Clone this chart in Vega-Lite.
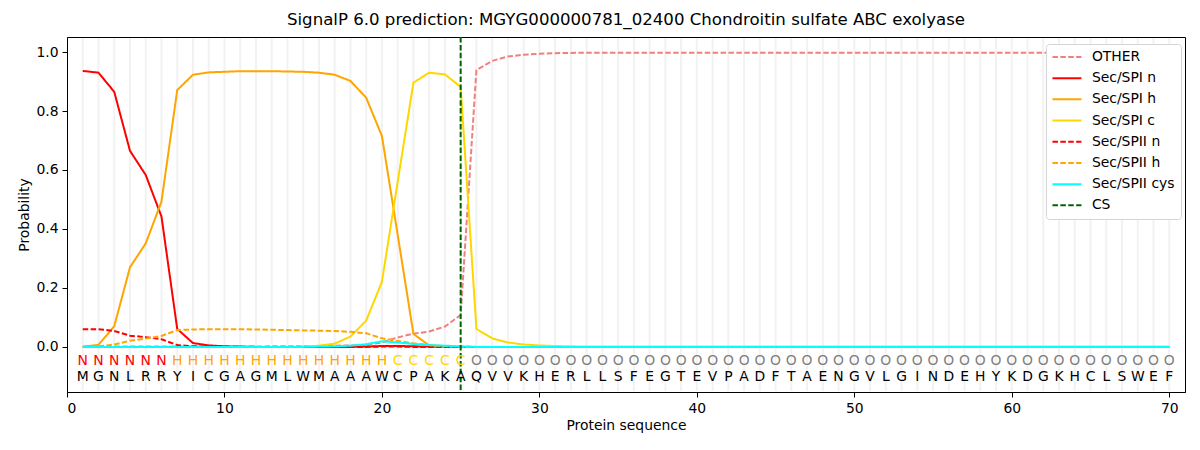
{
  "$schema": "https://vega.github.io/schema/vega-lite/v6.json",
  "width": 1118,
  "height": 355,
  "autosize": {"type": "none"},
  "padding": {"left": 67, "top": 37, "right": 15, "bottom": 58},
  "background": "white",
  "title": {
    "text": "SignalP 6.0 prediction: MGYG000000781_02400 Chondroitin sulfate ABC exolyase",
    "fontSize": 16.6,
    "fontWeight": "normal",
    "color": "black",
    "offset": 7
  },
  "config": {
    "font": "DejaVu Sans",
    "view": {"stroke": "black", "strokeWidth": 1},
    "axis": {
      "grid": false,
      "domainColor": "black",
      "tickColor": "black",
      "tickSize": 5,
      "labelColor": "black",
      "titleColor": "black",
      "labelFontSize": 13.9,
      "titleFontSize": 13.9,
      "titleFontWeight": "normal",
      "labelPadding": 4
    }
  },
  "data": {
    "values": [
      {"pos": 1, "aa": "M", "lab": "N", "OTHER": 0.001, "Sec/SPI n": 0.936, "Sec/SPI h": 0.0, "Sec/SPI c": 0.0, "Sec/SPII n": 0.06, "Sec/SPII h": 0.0, "Sec/SPII cys": 0.0},
      {"pos": 2, "aa": "G", "lab": "N", "OTHER": 0.001, "Sec/SPI n": 0.93, "Sec/SPI h": 0.007, "Sec/SPI c": 0.0, "Sec/SPII n": 0.06, "Sec/SPII h": 0.002, "Sec/SPII cys": 0.0},
      {"pos": 3, "aa": "N", "lab": "N", "OTHER": 0.001, "Sec/SPI n": 0.865, "Sec/SPI h": 0.07, "Sec/SPI c": 0.0, "Sec/SPII n": 0.054, "Sec/SPII h": 0.008, "Sec/SPII cys": 0.0},
      {"pos": 4, "aa": "L", "lab": "N", "OTHER": 0.001, "Sec/SPI n": 0.665, "Sec/SPI h": 0.27, "Sec/SPI c": 0.0, "Sec/SPII n": 0.038, "Sec/SPII h": 0.021, "Sec/SPII cys": 0.0},
      {"pos": 5, "aa": "R", "lab": "N", "OTHER": 0.001, "Sec/SPI n": 0.583, "Sec/SPI h": 0.351, "Sec/SPI c": 0.0, "Sec/SPII n": 0.033, "Sec/SPII h": 0.028, "Sec/SPII cys": 0.0},
      {"pos": 6, "aa": "R", "lab": "N", "OTHER": 0.001, "Sec/SPI n": 0.442, "Sec/SPI h": 0.493, "Sec/SPI c": 0.0, "Sec/SPII n": 0.026, "Sec/SPII h": 0.037, "Sec/SPII cys": 0.0},
      {"pos": 7, "aa": "Y", "lab": "H", "OTHER": 0.001, "Sec/SPI n": 0.061, "Sec/SPI h": 0.871, "Sec/SPI c": 0.0, "Sec/SPII n": 0.006, "Sec/SPII h": 0.057, "Sec/SPII cys": 0.0},
      {"pos": 8, "aa": "I", "lab": "H", "OTHER": 0.001, "Sec/SPI n": 0.013, "Sec/SPI h": 0.923, "Sec/SPI c": 0.0, "Sec/SPII n": 0.002, "Sec/SPII h": 0.059, "Sec/SPII cys": 0.0},
      {"pos": 9, "aa": "C", "lab": "H", "OTHER": 0.001, "Sec/SPI n": 0.005, "Sec/SPI h": 0.931, "Sec/SPI c": 0.0, "Sec/SPII n": 0.001, "Sec/SPII h": 0.06, "Sec/SPII cys": 0.0},
      {"pos": 10, "aa": "G", "lab": "H", "OTHER": 0.001, "Sec/SPI n": 0.002, "Sec/SPI h": 0.933, "Sec/SPI c": 0.0, "Sec/SPII n": 0.0, "Sec/SPII h": 0.06, "Sec/SPII cys": 0.0},
      {"pos": 11, "aa": "A", "lab": "H", "OTHER": 0.001, "Sec/SPI n": 0.001, "Sec/SPI h": 0.935, "Sec/SPI c": 0.0, "Sec/SPII n": 0.0, "Sec/SPII h": 0.06, "Sec/SPII cys": 0.0},
      {"pos": 12, "aa": "G", "lab": "H", "OTHER": 0.001, "Sec/SPI n": 0.0, "Sec/SPI h": 0.935, "Sec/SPI c": 0.0, "Sec/SPII n": 0.0, "Sec/SPII h": 0.059, "Sec/SPII cys": 0.0},
      {"pos": 13, "aa": "M", "lab": "H", "OTHER": 0.002, "Sec/SPI n": 0.0, "Sec/SPI h": 0.935, "Sec/SPI c": 0.0, "Sec/SPII n": 0.0, "Sec/SPII h": 0.058, "Sec/SPII cys": 0.0},
      {"pos": 14, "aa": "L", "lab": "H", "OTHER": 0.002, "Sec/SPI n": 0.0, "Sec/SPI h": 0.934, "Sec/SPI c": 0.0, "Sec/SPII n": 0.0, "Sec/SPII h": 0.057, "Sec/SPII cys": 0.0},
      {"pos": 15, "aa": "W", "lab": "H", "OTHER": 0.002, "Sec/SPI n": 0.0, "Sec/SPI h": 0.933, "Sec/SPI c": 0.001, "Sec/SPII n": 0.0, "Sec/SPII h": 0.056, "Sec/SPII cys": 0.0},
      {"pos": 16, "aa": "M", "lab": "H", "OTHER": 0.003, "Sec/SPI n": 0.0, "Sec/SPI h": 0.93, "Sec/SPI c": 0.004, "Sec/SPII n": 0.0, "Sec/SPII h": 0.055, "Sec/SPII cys": 0.001},
      {"pos": 17, "aa": "A", "lab": "H", "OTHER": 0.004, "Sec/SPI n": 0.0, "Sec/SPI h": 0.923, "Sec/SPI c": 0.011, "Sec/SPII n": 0.0, "Sec/SPII h": 0.054, "Sec/SPII cys": 0.002},
      {"pos": 18, "aa": "A", "lab": "H", "OTHER": 0.005, "Sec/SPI n": 0.0, "Sec/SPI h": 0.902, "Sec/SPI c": 0.035, "Sec/SPII n": 0.0, "Sec/SPII h": 0.051, "Sec/SPII cys": 0.004},
      {"pos": 19, "aa": "A", "lab": "H", "OTHER": 0.007, "Sec/SPI n": 0.001, "Sec/SPI h": 0.845, "Sec/SPI c": 0.089, "Sec/SPII n": 0.0, "Sec/SPII h": 0.046, "Sec/SPII cys": 0.009},
      {"pos": 20, "aa": "W", "lab": "H", "OTHER": 0.015, "Sec/SPI n": 0.003, "Sec/SPI h": 0.715, "Sec/SPI c": 0.221, "Sec/SPII n": 0.001, "Sec/SPII h": 0.029, "Sec/SPII cys": 0.019},
      {"pos": 21, "aa": "C", "lab": "C", "OTHER": 0.032, "Sec/SPI n": 0.003, "Sec/SPI h": 0.38, "Sec/SPI c": 0.56, "Sec/SPII n": 0.001, "Sec/SPII h": 0.02, "Sec/SPII cys": 0.015},
      {"pos": 22, "aa": "P", "lab": "C", "OTHER": 0.045, "Sec/SPI n": 0.002, "Sec/SPI h": 0.044, "Sec/SPI c": 0.896, "Sec/SPII n": 0.0, "Sec/SPII h": 0.012, "Sec/SPII cys": 0.01},
      {"pos": 23, "aa": "A", "lab": "C", "OTHER": 0.052, "Sec/SPI n": 0.001, "Sec/SPI h": 0.005, "Sec/SPI c": 0.93, "Sec/SPII n": 0.0, "Sec/SPII h": 0.006, "Sec/SPII cys": 0.006},
      {"pos": 24, "aa": "K", "lab": "C", "OTHER": 0.069, "Sec/SPI n": 0.0, "Sec/SPI h": 0.001, "Sec/SPI c": 0.924, "Sec/SPII n": 0.0, "Sec/SPII h": 0.003, "Sec/SPII cys": 0.004},
      {"pos": 25, "aa": "A", "lab": "C", "OTHER": 0.108, "Sec/SPI n": 0.0, "Sec/SPI h": 0.0, "Sec/SPI c": 0.882, "Sec/SPII n": 0.0, "Sec/SPII h": 0.001, "Sec/SPII cys": 0.002},
      {"pos": 26, "aa": "Q", "lab": "O", "OTHER": 0.939, "Sec/SPI n": 0.0, "Sec/SPI h": 0.0, "Sec/SPI c": 0.061, "Sec/SPII n": 0.0, "Sec/SPII h": 0.0, "Sec/SPII cys": 0.0},
      {"pos": 27, "aa": "V", "lab": "O", "OTHER": 0.97, "Sec/SPI n": 0.0, "Sec/SPI h": 0.0, "Sec/SPI c": 0.029, "Sec/SPII n": 0.0, "Sec/SPII h": 0.0, "Sec/SPII cys": 0.0},
      {"pos": 28, "aa": "V", "lab": "O", "OTHER": 0.985, "Sec/SPI n": 0.0, "Sec/SPI h": 0.0, "Sec/SPI c": 0.015, "Sec/SPII n": 0.0, "Sec/SPII h": 0.0, "Sec/SPII cys": 0.0},
      {"pos": 29, "aa": "K", "lab": "O", "OTHER": 0.991, "Sec/SPI n": 0.0, "Sec/SPI h": 0.0, "Sec/SPI c": 0.008, "Sec/SPII n": 0.0, "Sec/SPII h": 0.0, "Sec/SPII cys": 0.0},
      {"pos": 30, "aa": "H", "lab": "O", "OTHER": 0.994, "Sec/SPI n": 0.0, "Sec/SPI h": 0.0, "Sec/SPI c": 0.005, "Sec/SPII n": 0.0, "Sec/SPII h": 0.0, "Sec/SPII cys": 0.0},
      {"pos": 31, "aa": "E", "lab": "O", "OTHER": 0.996, "Sec/SPI n": 0.0, "Sec/SPI h": 0.0, "Sec/SPI c": 0.003, "Sec/SPII n": 0.0, "Sec/SPII h": 0.0, "Sec/SPII cys": 0.0},
      {"pos": 32, "aa": "R", "lab": "O", "OTHER": 0.997, "Sec/SPI n": 0.0, "Sec/SPI h": 0.0, "Sec/SPI c": 0.002, "Sec/SPII n": 0.0, "Sec/SPII h": 0.0, "Sec/SPII cys": 0.0},
      {"pos": 33, "aa": "L", "lab": "O", "OTHER": 0.998, "Sec/SPI n": 0.0, "Sec/SPI h": 0.0, "Sec/SPI c": 0.001, "Sec/SPII n": 0.0, "Sec/SPII h": 0.0, "Sec/SPII cys": 0.0},
      {"pos": 34, "aa": "L", "lab": "O", "OTHER": 0.998, "Sec/SPI n": 0.0, "Sec/SPI h": 0.0, "Sec/SPI c": 0.001, "Sec/SPII n": 0.0, "Sec/SPII h": 0.0, "Sec/SPII cys": 0.0},
      {"pos": 35, "aa": "S", "lab": "O", "OTHER": 0.998, "Sec/SPI n": 0.0, "Sec/SPI h": 0.0, "Sec/SPI c": 0.001, "Sec/SPII n": 0.0, "Sec/SPII h": 0.0, "Sec/SPII cys": 0.0},
      {"pos": 36, "aa": "F", "lab": "O", "OTHER": 0.998, "Sec/SPI n": 0.0, "Sec/SPI h": 0.0, "Sec/SPI c": 0.001, "Sec/SPII n": 0.0, "Sec/SPII h": 0.0, "Sec/SPII cys": 0.0},
      {"pos": 37, "aa": "E", "lab": "O", "OTHER": 0.998, "Sec/SPI n": 0.0, "Sec/SPI h": 0.0, "Sec/SPI c": 0.001, "Sec/SPII n": 0.0, "Sec/SPII h": 0.0, "Sec/SPII cys": 0.0},
      {"pos": 38, "aa": "G", "lab": "O", "OTHER": 0.998, "Sec/SPI n": 0.0, "Sec/SPI h": 0.0, "Sec/SPI c": 0.001, "Sec/SPII n": 0.0, "Sec/SPII h": 0.0, "Sec/SPII cys": 0.0},
      {"pos": 39, "aa": "T", "lab": "O", "OTHER": 0.998, "Sec/SPI n": 0.0, "Sec/SPI h": 0.0, "Sec/SPI c": 0.001, "Sec/SPII n": 0.0, "Sec/SPII h": 0.0, "Sec/SPII cys": 0.0},
      {"pos": 40, "aa": "E", "lab": "O", "OTHER": 0.998, "Sec/SPI n": 0.0, "Sec/SPI h": 0.0, "Sec/SPI c": 0.001, "Sec/SPII n": 0.0, "Sec/SPII h": 0.0, "Sec/SPII cys": 0.0},
      {"pos": 41, "aa": "V", "lab": "O", "OTHER": 0.998, "Sec/SPI n": 0.0, "Sec/SPI h": 0.0, "Sec/SPI c": 0.001, "Sec/SPII n": 0.0, "Sec/SPII h": 0.0, "Sec/SPII cys": 0.0},
      {"pos": 42, "aa": "P", "lab": "O", "OTHER": 0.998, "Sec/SPI n": 0.0, "Sec/SPI h": 0.0, "Sec/SPI c": 0.001, "Sec/SPII n": 0.0, "Sec/SPII h": 0.0, "Sec/SPII cys": 0.0},
      {"pos": 43, "aa": "A", "lab": "O", "OTHER": 0.998, "Sec/SPI n": 0.0, "Sec/SPI h": 0.0, "Sec/SPI c": 0.001, "Sec/SPII n": 0.0, "Sec/SPII h": 0.0, "Sec/SPII cys": 0.0},
      {"pos": 44, "aa": "D", "lab": "O", "OTHER": 0.998, "Sec/SPI n": 0.0, "Sec/SPI h": 0.0, "Sec/SPI c": 0.001, "Sec/SPII n": 0.0, "Sec/SPII h": 0.0, "Sec/SPII cys": 0.0},
      {"pos": 45, "aa": "F", "lab": "O", "OTHER": 0.998, "Sec/SPI n": 0.0, "Sec/SPI h": 0.0, "Sec/SPI c": 0.001, "Sec/SPII n": 0.0, "Sec/SPII h": 0.0, "Sec/SPII cys": 0.0},
      {"pos": 46, "aa": "T", "lab": "O", "OTHER": 0.998, "Sec/SPI n": 0.0, "Sec/SPI h": 0.0, "Sec/SPI c": 0.001, "Sec/SPII n": 0.0, "Sec/SPII h": 0.0, "Sec/SPII cys": 0.0},
      {"pos": 47, "aa": "A", "lab": "O", "OTHER": 0.998, "Sec/SPI n": 0.0, "Sec/SPI h": 0.0, "Sec/SPI c": 0.001, "Sec/SPII n": 0.0, "Sec/SPII h": 0.0, "Sec/SPII cys": 0.0},
      {"pos": 48, "aa": "E", "lab": "O", "OTHER": 0.998, "Sec/SPI n": 0.0, "Sec/SPI h": 0.0, "Sec/SPI c": 0.001, "Sec/SPII n": 0.0, "Sec/SPII h": 0.0, "Sec/SPII cys": 0.0},
      {"pos": 49, "aa": "N", "lab": "O", "OTHER": 0.998, "Sec/SPI n": 0.0, "Sec/SPI h": 0.0, "Sec/SPI c": 0.001, "Sec/SPII n": 0.0, "Sec/SPII h": 0.0, "Sec/SPII cys": 0.0},
      {"pos": 50, "aa": "G", "lab": "O", "OTHER": 0.998, "Sec/SPI n": 0.0, "Sec/SPI h": 0.0, "Sec/SPI c": 0.001, "Sec/SPII n": 0.0, "Sec/SPII h": 0.0, "Sec/SPII cys": 0.0},
      {"pos": 51, "aa": "V", "lab": "O", "OTHER": 0.998, "Sec/SPI n": 0.0, "Sec/SPI h": 0.0, "Sec/SPI c": 0.001, "Sec/SPII n": 0.0, "Sec/SPII h": 0.0, "Sec/SPII cys": 0.0},
      {"pos": 52, "aa": "L", "lab": "O", "OTHER": 0.998, "Sec/SPI n": 0.0, "Sec/SPI h": 0.0, "Sec/SPI c": 0.001, "Sec/SPII n": 0.0, "Sec/SPII h": 0.0, "Sec/SPII cys": 0.0},
      {"pos": 53, "aa": "G", "lab": "O", "OTHER": 0.998, "Sec/SPI n": 0.0, "Sec/SPI h": 0.0, "Sec/SPI c": 0.001, "Sec/SPII n": 0.0, "Sec/SPII h": 0.0, "Sec/SPII cys": 0.0},
      {"pos": 54, "aa": "I", "lab": "O", "OTHER": 0.998, "Sec/SPI n": 0.0, "Sec/SPI h": 0.0, "Sec/SPI c": 0.001, "Sec/SPII n": 0.0, "Sec/SPII h": 0.0, "Sec/SPII cys": 0.0},
      {"pos": 55, "aa": "N", "lab": "O", "OTHER": 0.998, "Sec/SPI n": 0.0, "Sec/SPI h": 0.0, "Sec/SPI c": 0.001, "Sec/SPII n": 0.0, "Sec/SPII h": 0.0, "Sec/SPII cys": 0.0},
      {"pos": 56, "aa": "D", "lab": "O", "OTHER": 0.998, "Sec/SPI n": 0.0, "Sec/SPI h": 0.0, "Sec/SPI c": 0.001, "Sec/SPII n": 0.0, "Sec/SPII h": 0.0, "Sec/SPII cys": 0.0},
      {"pos": 57, "aa": "E", "lab": "O", "OTHER": 0.998, "Sec/SPI n": 0.0, "Sec/SPI h": 0.0, "Sec/SPI c": 0.001, "Sec/SPII n": 0.0, "Sec/SPII h": 0.0, "Sec/SPII cys": 0.0},
      {"pos": 58, "aa": "H", "lab": "O", "OTHER": 0.998, "Sec/SPI n": 0.0, "Sec/SPI h": 0.0, "Sec/SPI c": 0.001, "Sec/SPII n": 0.0, "Sec/SPII h": 0.0, "Sec/SPII cys": 0.0},
      {"pos": 59, "aa": "Y", "lab": "O", "OTHER": 0.998, "Sec/SPI n": 0.0, "Sec/SPI h": 0.0, "Sec/SPI c": 0.001, "Sec/SPII n": 0.0, "Sec/SPII h": 0.0, "Sec/SPII cys": 0.0},
      {"pos": 60, "aa": "K", "lab": "O", "OTHER": 0.998, "Sec/SPI n": 0.0, "Sec/SPI h": 0.0, "Sec/SPI c": 0.001, "Sec/SPII n": 0.0, "Sec/SPII h": 0.0, "Sec/SPII cys": 0.0},
      {"pos": 61, "aa": "D", "lab": "O", "OTHER": 0.998, "Sec/SPI n": 0.0, "Sec/SPI h": 0.0, "Sec/SPI c": 0.001, "Sec/SPII n": 0.0, "Sec/SPII h": 0.0, "Sec/SPII cys": 0.0},
      {"pos": 62, "aa": "G", "lab": "O", "OTHER": 0.998, "Sec/SPI n": 0.0, "Sec/SPI h": 0.0, "Sec/SPI c": 0.001, "Sec/SPII n": 0.0, "Sec/SPII h": 0.0, "Sec/SPII cys": 0.0},
      {"pos": 63, "aa": "K", "lab": "O", "OTHER": 0.998, "Sec/SPI n": 0.0, "Sec/SPI h": 0.0, "Sec/SPI c": 0.001, "Sec/SPII n": 0.0, "Sec/SPII h": 0.0, "Sec/SPII cys": 0.0},
      {"pos": 64, "aa": "H", "lab": "O", "OTHER": 0.998, "Sec/SPI n": 0.0, "Sec/SPI h": 0.0, "Sec/SPI c": 0.001, "Sec/SPII n": 0.0, "Sec/SPII h": 0.0, "Sec/SPII cys": 0.0},
      {"pos": 65, "aa": "C", "lab": "O", "OTHER": 0.998, "Sec/SPI n": 0.0, "Sec/SPI h": 0.0, "Sec/SPI c": 0.001, "Sec/SPII n": 0.0, "Sec/SPII h": 0.0, "Sec/SPII cys": 0.0},
      {"pos": 66, "aa": "L", "lab": "O", "OTHER": 0.998, "Sec/SPI n": 0.0, "Sec/SPI h": 0.0, "Sec/SPI c": 0.001, "Sec/SPII n": 0.0, "Sec/SPII h": 0.0, "Sec/SPII cys": 0.0},
      {"pos": 67, "aa": "S", "lab": "O", "OTHER": 0.998, "Sec/SPI n": 0.0, "Sec/SPI h": 0.0, "Sec/SPI c": 0.001, "Sec/SPII n": 0.0, "Sec/SPII h": 0.0, "Sec/SPII cys": 0.0},
      {"pos": 68, "aa": "W", "lab": "O", "OTHER": 0.998, "Sec/SPI n": 0.0, "Sec/SPI h": 0.0, "Sec/SPI c": 0.001, "Sec/SPII n": 0.0, "Sec/SPII h": 0.0, "Sec/SPII cys": 0.0},
      {"pos": 69, "aa": "E", "lab": "O", "OTHER": 0.998, "Sec/SPI n": 0.0, "Sec/SPI h": 0.0, "Sec/SPI c": 0.001, "Sec/SPII n": 0.0, "Sec/SPII h": 0.0, "Sec/SPII cys": 0.0},
      {"pos": 70, "aa": "F", "lab": "O", "OTHER": 0.998, "Sec/SPI n": 0.0, "Sec/SPI h": 0.0, "Sec/SPI c": 0.001, "Sec/SPII n": 0.0, "Sec/SPII h": 0.0, "Sec/SPII cys": 0.0}
    ]
  },
  "layer": [
    {
      "mark": {"type": "rule", "color": "#f2f2f2", "strokeWidth": 2},
      "encoding": {
        "x": {"field": "pos", "type": "quantitative", "scale": {"domain": [0, 71], "nice": false, "zero": false},
              "axis": {"values": [0, 10, 20, 30, 40, 50, 60, 70], "format": "d", "title": "Protein sequence"}},
        "y": {"datum": -0.15},
        "y2": {"datum": 1.047}
      }
    },
    {
      "transform": [
        {"fold": ["OTHER", "Sec/SPI n", "Sec/SPI h", "Sec/SPI c", "Sec/SPII n", "Sec/SPII h", "Sec/SPII cys"], "as": ["series", "value"]}
      ],
      "mark": {"type": "line", "strokeWidth": 2},
      "encoding": {
        "x": {"field": "pos", "type": "quantitative"},
        "y": {"field": "value", "type": "quantitative",
              "scale": {"domain": [-0.153, 1.051], "nice": false, "zero": false},
              "axis": {"values": [0, 0.2, 0.4, 0.6, 0.8, 1.0], "format": ".1f", "title": "Probability"}},
        "color": {"field": "series", "type": "nominal",
                  "scale": {"domain": ["OTHER", "Sec/SPI n", "Sec/SPI h", "Sec/SPI c", "Sec/SPII n", "Sec/SPII h", "Sec/SPII cys", "CS"],
                            "range": ["#f08080", "#ff0000", "#ffa500", "#ffd700", "#ff0000", "#ffa500", "#00ffff", "#006400"]},
                  "legend": {"title": null, "orient": "none", "legendX": 979, "legendY": 7,
                             "symbolType": "M-2.9,0H2.9", "symbolSize": 100, "symbolStrokeWidth": 2,
                             "symbolOffset": 8, "labelFontSize": 13.9, "labelColor": "black", "labelOffset": 18, "rowPadding": 6.2,
                             "padding": 6, "fillColor": "white", "strokeColor": "#d5d5d5", "cornerRadius": 3}},
        "strokeDash": {"field": "series", "type": "nominal",
                       "scale": {"domain": ["OTHER", "Sec/SPI n", "Sec/SPI h", "Sec/SPI c", "Sec/SPII n", "Sec/SPII h", "Sec/SPII cys", "CS"],
                                 "range": [[5.5, 2.4], [1, 0], [1, 0], [1, 0], [5.5, 2.4], [5.5, 2.4], [1, 0], [5.5, 2.4]]},
                       "legend": {"title": null, "orient": "none", "legendX": 979, "legendY": 7}}
      }
    },
    {
      "data": {"values": [{"pos": 25, "series": "CS"}]},
      "mark": {"type": "rule", "strokeWidth": 2},
      "encoding": {
        "x": {"field": "pos", "type": "quantitative"},
        "color": {"field": "series", "type": "nominal"},
        "strokeDash": {"field": "series", "type": "nominal"}
      }
    },
    {
      "mark": {"type": "text", "fontSize": 13.9, "baseline": "middle"},
      "encoding": {
        "x": {"field": "pos", "type": "quantitative"},
        "y": {"datum": -0.047},
        "text": {"field": "lab"},
        "color": {
          "condition": [
            {"test": "datum.lab === 'N'", "value": "#ff0000"},
            {"test": "datum.lab === 'H'", "value": "#ffa500"},
            {"test": "datum.lab === 'C'", "value": "#ffd700"}
          ],
          "value": "#808080"
        }
      }
    },
    {
      "mark": {"type": "text", "fontSize": 13.9, "baseline": "middle", "color": "black"},
      "encoding": {
        "x": {"field": "pos", "type": "quantitative"},
        "y": {"datum": -0.102},
        "text": {"field": "aa"}
      }
    }
  ]
}
